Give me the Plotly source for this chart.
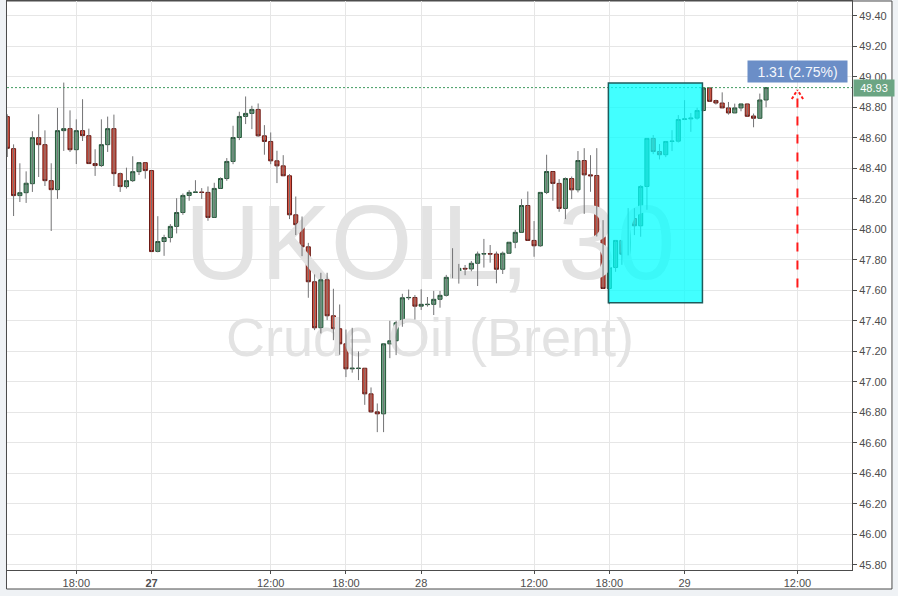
import numpy as np
import pandas as pd
import plotly.graph_objects as go

# UKOIL 30 min bars, 26 Sep 12:30 -> 29 Sep 09:30
opens = [48.74, 48.53, 48.222, 48.241, 48.30, 48.602, 48.556, 48.32, 48.261, 48.648,
         48.661, 48.523, 48.648, 48.615, 48.432, 48.419, 48.556, 48.661, 48.366, 48.281,
         48.32, 48.379, 48.438, 48.386, 47.856, 47.921, 47.947, 48.02, 48.111, 48.223,
         48.243, 48.245, 48.243, 48.079, 48.269, 48.334, 48.446, 48.603, 48.741, 48.761,
         48.787, 48.614, 48.577, 48.45, 48.417, 48.352, 48.096, 48.031, 47.886, 47.657,
         47.355, 47.67, 47.434, 47.349, 47.25, 47.086, 47.088, 47.09, 46.922, 46.804,
         46.791, 47.25, 47.27, 47.388, 47.552, 47.554, 47.497, 47.507, 47.509, 47.542,
         47.568, 47.686, 47.706, 47.745, 47.741, 47.778, 47.839, 47.841, 47.839, 47.739,
         47.844, 47.916, 47.981, 48.157, 47.928, 47.893, 48.243, 48.38, 48.302, 48.138,
         48.334, 48.26, 48.452, 48.358, 48.354, 47.954, 47.613, 47.751, 47.928, 47.838,
         48.072, 48.024, 48.282, 48.597, 48.511, 48.49, 48.577, 48.579, 48.721, 48.725,
         48.73, 48.78, 48.928, 48.845, 48.829, 48.797, 48.764, 48.797, 48.823, 48.744,
         48.729, 48.849]
highs = [48.755, 48.558, 48.434, 48.381, 48.644, 48.755, 48.65, 48.434, 48.797, 48.963,
         48.781, 48.722, 48.854, 48.661, 48.526, 48.722, 48.74, 48.753, 48.373, 48.405,
         48.48, 48.438, 48.438, 48.386, 48.087, 47.965, 48.035, 48.205, 48.236, 48.258,
         48.323, 48.271, 48.282, 48.306, 48.341, 48.468, 48.68, 48.772, 48.872, 48.811,
         48.826, 48.684, 48.636, 48.516, 48.487, 48.363, 48.216, 48.085, 47.912, 47.705,
         47.716, 47.716, 47.611, 47.508, 47.344, 47.355, 47.20, 47.09, 46.964, 46.859,
         47.25, 47.401, 47.401, 47.578, 47.606, 47.57, 47.608, 47.557, 47.597, 47.597,
         47.702, 47.877, 47.774, 47.767, 47.793, 47.855, 47.938, 47.898, 47.855, 47.855,
         47.916, 47.997, 48.199, 48.249, 48.055, 48.243, 48.49, 48.38, 48.33, 48.341,
         48.347, 48.514, 48.533, 48.487, 48.533, 48.061, 47.799, 47.928, 47.928, 48.14,
         48.14, 48.291, 48.597, 48.619, 48.56, 48.577, 48.651, 48.75, 48.848, 48.763,
         48.798, 48.931, 48.93, 48.851, 48.899, 48.836, 48.825, 48.823, 48.823, 48.76,
         48.891, 48.93]
lows = [48.475, 48.088, 48.18, 48.174, 48.246, 48.344, 48.285, 47.99, 48.20, 48.515,
        48.508, 48.429, 48.58, 48.432, 48.351, 48.41, 48.508, 48.285, 48.246, 48.268,
        48.311, 48.357, 48.333, 47.855, 47.85, 47.827, 47.915, 47.974, 48.096, 48.188,
        48.243, 48.20, 48.057, 48.079, 48.269, 48.319, 48.428, 48.586, 48.691, 48.658,
        48.608, 48.49, 48.428, 48.304, 48.352, 48.068, 47.963, 47.825, 47.552, 47.34,
        47.318, 47.405, 47.274, 47.178, 47.032, 47.061, 47.012, 46.85, 46.798, 46.671,
        46.671, 47.156, 47.176, 47.362, 47.537, 47.41, 47.472, 47.494, 47.439, 47.487,
        47.56, 47.68, 47.645, 47.70, 47.726, 47.629, 47.75, 47.782, 47.647, 47.708,
        47.84, 47.877, 47.981, 47.928, 47.821, 47.886, 48.232, 48.188, 48.116, 48.068,
        48.199, 48.243, 48.102, 48.247, 47.954, 47.613, 47.51, 47.722, 47.768, 47.83,
        47.963, 47.952, 48.129, 48.494, 48.459, 48.474, 48.514, 48.57, 48.717, 48.64,
        48.72, 48.775, 48.84, 48.819, 48.797, 48.753, 48.764, 48.775, 48.742, 48.67,
        48.729, 48.801]
closes = [48.532, 48.222, 48.241, 48.303, 48.602, 48.556, 48.32, 48.261, 48.648, 48.661,
          48.523, 48.648, 48.615, 48.432, 48.419, 48.556, 48.661, 48.366, 48.281, 48.32,
          48.379, 48.438, 48.386, 47.855, 47.921, 47.947, 48.02, 48.111, 48.223, 48.243,
          48.245, 48.243, 48.079, 48.269, 48.334, 48.446, 48.603, 48.741, 48.761, 48.787,
          48.614, 48.577, 48.45, 48.417, 48.352, 48.096, 48.031, 47.886, 47.657, 47.355,
          47.67, 47.434, 47.349, 47.25, 47.086, 47.09, 47.09, 46.922, 46.804, 46.791,
          47.25, 47.27, 47.388, 47.552, 47.554, 47.497, 47.509, 47.509, 47.542, 47.568,
          47.686, 47.706, 47.745, 47.741, 47.778, 47.839, 47.841, 47.839, 47.739, 47.844,
          47.916, 47.981, 48.157, 47.928, 47.893, 48.243, 48.38, 48.302, 48.138, 48.334,
          48.26, 48.452, 48.358, 48.352, 47.954, 47.613, 47.751, 47.928, 47.838, 48.072,
          48.024, 48.282, 48.597, 48.511, 48.49, 48.577, 48.579, 48.721, 48.725, 48.73,
          48.78, 48.928, 48.84, 48.829, 48.797, 48.764, 48.797, 48.823, 48.742, 48.729,
          48.849, 48.93]

# trading sessions (the feed has no bars in the early morning)
sessions = [("2016-09-26 12:30", "2016-09-26 23:30"),
            ("2016-09-27 02:30", "2016-09-27 23:30"),
            ("2016-09-28 03:00", "2016-09-28 23:30"),
            ("2016-09-29 03:00", "2016-09-29 09:30")]
times = pd.DatetimeIndex(np.concatenate([pd.date_range(a, b, freq="30min").values
                                         for a, b in sessions]))

tick_times = ["2016-09-26 18:00", "2016-09-27 02:30", "2016-09-27 12:00", "2016-09-27 18:00",
              "2016-09-28 03:00", "2016-09-28 12:00", "2016-09-28 18:00", "2016-09-29 03:00",
              "2016-09-29 12:00"]
tick_text = ["18:00", "<b>27</b>", "12:00", "18:00", "28", "12:00", "18:00", "29", "12:00"]

# drawing tools on the chart
box_from, box_to = "2016-09-28 18:00", "2016-09-29 04:30"
box_low, box_high = 47.52, 48.96
move_at = "2016-09-29 12:00"
move_from = 47.62
move_to = closes[-1]


def bar_pos(ts):
    ts = pd.Timestamp(ts)
    if ts <= times[-1]:
        return int(times.get_loc(ts))
    return len(times) - 1 + (ts - times[-1]) / pd.Timedelta("30min")


x = np.arange(len(times))
tick_pos = [bar_pos(t) for t in tick_times]

wick_x, wick_y = [], []
for i in range(len(x)):
    wick_x += [i, i, None]
    wick_y += [lows[i], highs[i], None]

body_hi = np.maximum(opens, closes)
body_lo = np.minimum(opens, closes)

fig = go.Figure()

# watermark
fig.add_trace(go.Scatter(x=[67.4, 67.4], y=[47.846, 47.262], mode="text",
                         text=["UKOIL, 30", "Crude Oil (Brent)"],
                         textposition="middle center",
                         textfont=dict(family="Liberation Sans, Arial", size=[105, 54],
                                       color="#e3e3e3"),
                         hoverinfo="skip"))

fig.add_trace(go.Scatter(x=wick_x, y=wick_y, mode="lines",
                         line=dict(color="#737375", width=1), hoverinfo="skip"))

fig.add_trace(go.Candlestick(x=x, open=opens, high=body_hi, low=body_lo, close=closes,
                             increasing=dict(fillcolor="#6ba583", line=dict(color="#225437", width=1)),
                             decreasing=dict(fillcolor="#d75442", line=dict(color="#6b1914", width=1))))

shapes = []
# white chart panel incl. axis areas
shapes.append(dict(type="rect", xref="paper", yref="paper", x0=-0.0006, x1=1.0473,
                   y0=-0.0334, y1=1.0, fillcolor="white",
                   line=dict(color="#4c4c4c", width=1), layer="below"))
# last price line
shapes.append(dict(type="line", xref="paper", yref="y", x0=0, x1=1, y0=move_to, y1=move_to,
                   line=dict(color="#3f9a60", width=1, dash="2px,2px")))
# cyan rectangle
shapes.append(dict(type="rect", xref="x", yref="y",
                   x0=bar_pos(box_from) - 0.15, x1=bar_pos(box_to) - 0.15,
                   y0=box_low, y1=box_high, fillcolor="rgba(0,255,255,0.74)",
                   line=dict(color="#1d5c5c", width=1.5), layer="above"))
# dashed red arrow
ax = bar_pos(move_at)
tip = move_to - 0.015
shapes.append(dict(type="line", xref="x", yref="y", x0=ax, x1=ax, y0=move_from, y1=tip,
                   line=dict(color="#ff1a1a", width=2, dash="dash")))
for side in (-1, 1):
    shapes.append(dict(type="line", xref="x", yref="y", x0=ax + side * 0.9, x1=ax,
                       y0=tip - 0.06, y1=tip,
                       line=dict(color="#ff1a1a", width=2, dash="3px,2px")))

annotations = [
    dict(xref="x", yref="y", x=ax, y=49.033, showarrow=False,
         text=f"{move_to - move_from:.2f} ({(move_to - move_from) / move_from * 100:.2f}%)",
         bgcolor="#6b8ec7", width=97, height=19,
         font=dict(family="Liberation Sans, Arial", size=14, color="#f4f7fc")),
    dict(xref="paper", yref="y", x=1, xanchor="left", xshift=1, y=move_to, showarrow=False,
         text=f"{move_to:.2f}", bgcolor="#6ba583", width=38, height=14,
         font=dict(family="Liberation Sans, Arial", size=11, color="white")),
]

fig.update_layout(
    width=898, height=596,
    margin=dict(l=7, r=46, t=1, b=26),
    paper_bgcolor="#eff2f5", plot_bgcolor="white",
    showlegend=False,
    boxgap=0.35, boxgroupgap=0,
    font=dict(family="Liberation Sans, Arial, sans-serif", size=11, color="#4d4d4d"),
    shapes=shapes, annotations=annotations,
    xaxis=dict(range=[-0.05, 134.7], tickmode="array", tickvals=tick_pos, ticktext=tick_text,
               showgrid=True, gridcolor="#e6e6e6", zeroline=False,
               showline=True, linecolor="#4c4c4c", mirror=True,
               ticks="outside", ticklen=3, tickcolor="#4c4c4c",
               rangeslider=dict(visible=False)),
    yaxis=dict(side="right", range=[45.767, 49.498], tick0=45.8, dtick=0.2, tickformat=".2f",
               showgrid=True, gridcolor="#e6e6e6", zeroline=False,
               showline=True, linecolor="#4c4c4c", mirror=True,
               ticks="outside", ticklen=4, tickcolor="#4c4c4c"),
)

# the page body has a default margin; drop it so the chart fills the window
fig.write_html("out.html", config={"displayModeBar": False},
               post_script="document.body.style.margin='0';")
